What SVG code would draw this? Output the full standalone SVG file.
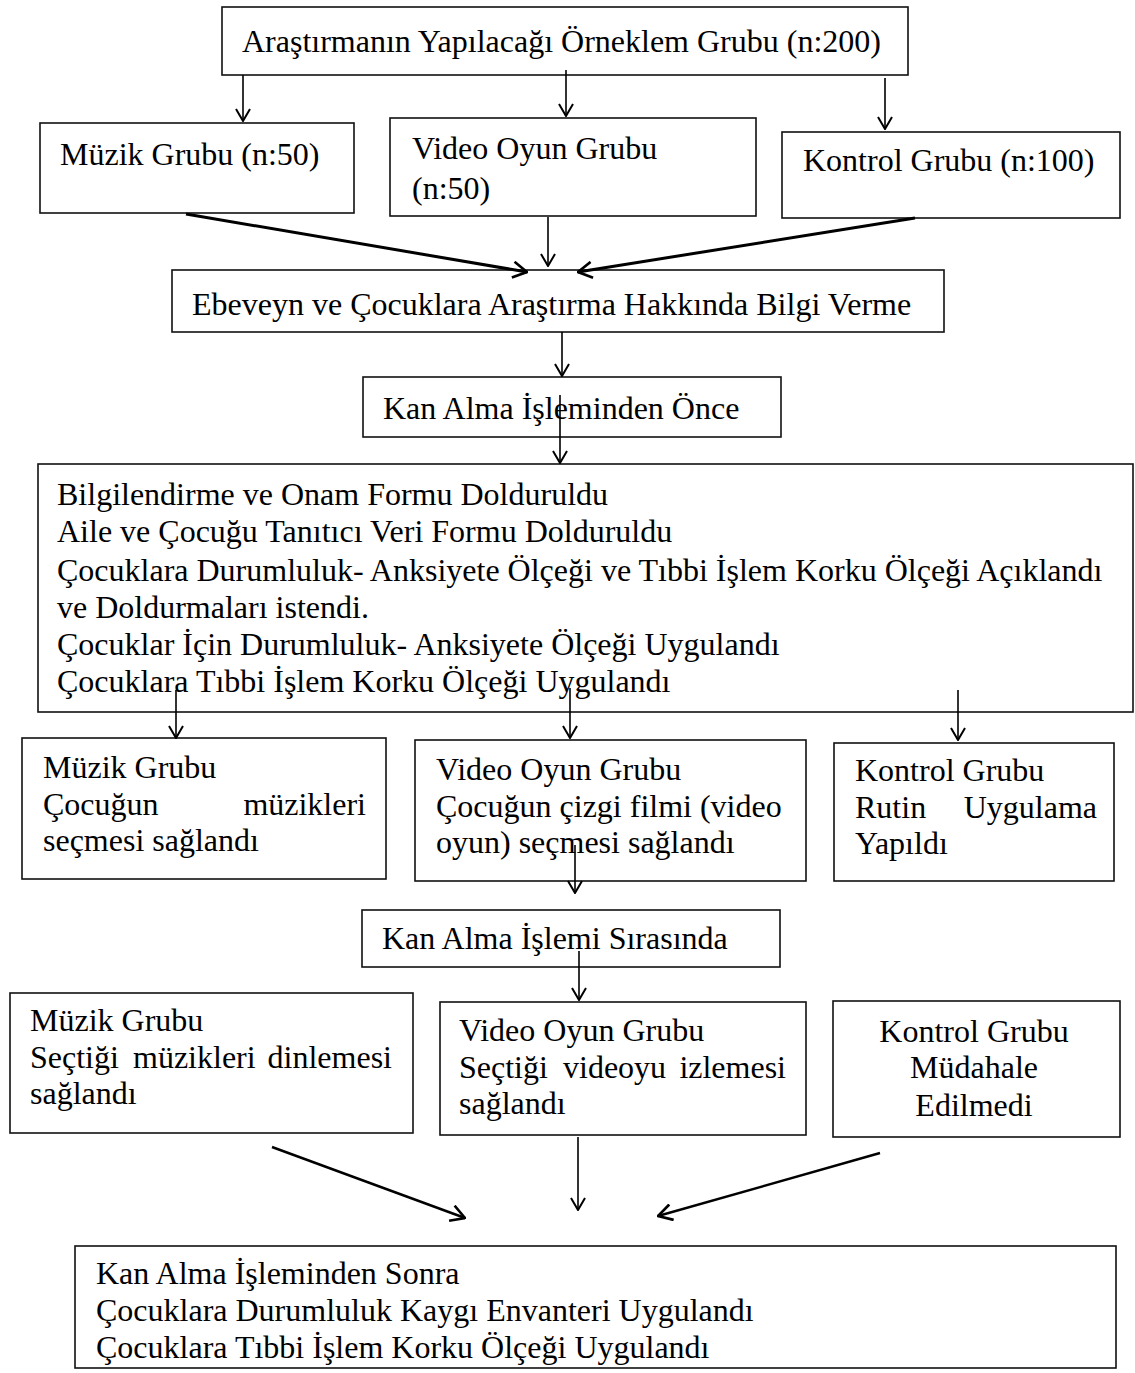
<svg xmlns="http://www.w3.org/2000/svg" width="1135" height="1373" viewBox="0 0 1135 1373">
<defs>
<marker id="v" viewBox="0 0 14 16" markerWidth="14" markerHeight="16" refX="13" refY="8" orient="auto" markerUnits="userSpaceOnUse">
<path d="M1,1 L13,8 L1,15" fill="none" stroke="#000" stroke-width="2"/>
</marker>
<marker id="vb" viewBox="0 0 16 18" markerWidth="16" markerHeight="18" refX="15" refY="9" orient="auto" markerUnits="userSpaceOnUse">
<path d="M1,1 L15,9 L1,17" fill="none" stroke="#000" stroke-width="2.6"/>
</marker>
</defs>
<style>
rect{fill:#fff;stroke:#111;stroke-width:1.6}
text{font-family:"Liberation Serif","Times New Roman",serif;font-size:32px;fill:#000}
.c line{stroke:#000;stroke-width:1.6;marker-end:url(#v)}
.c line.t{stroke-width:3;marker-end:url(#vb)}
.c line.m{stroke-width:2.4;marker-end:url(#vb)}
</style>
<rect x="0" y="0" width="1135" height="1373" style="fill:#fff;stroke:none"/>

<g id="n-orneklem">
<rect x="222" y="7" width="686" height="68"/>
<text x="242" y="52">Araştırmanın Yapılacağı Örneklem Grubu (n:200)</text>
</g>
<g id="n-muzik1">
<rect x="40" y="123" width="314" height="90"/>
<text x="60" y="165">Müzik Grubu (n:50)</text>
</g>
<g id="n-video1">
<rect x="390" y="118" width="366" height="98"/>
<text x="412" y="159">Video Oyun Grubu</text>
<text x="412" y="199">(n:50)</text>
</g>
<g id="n-kontrol1">
<rect x="782" y="132" width="338" height="86"/>
<text x="803" y="171">Kontrol Grubu (n:100)</text>
</g>
<g id="n-ebeveyn">
<rect x="172" y="270" width="772" height="62"/>
<text x="192" y="315">Ebeveyn ve Çocuklara Araştırma Hakkında Bilgi Verme</text>
</g>
<g id="n-once">
<rect x="363" y="377" width="418" height="60"/>
<text x="383" y="419">Kan Alma İşleminden Önce</text>
</g>
<g id="n-formlar">
<rect x="38" y="464" width="1095" height="248"/>
<text x="57" y="505">Bilgilendirme ve Onam Formu Dolduruldu</text>
<text x="57" y="542">Aile ve Çocuğu Tanıtıcı Veri Formu Dolduruldu</text>
<text x="57" y="581">Çocuklara Durumluluk- Anksiyete Ölçeği ve Tıbbi İşlem Korku Ölçeği Açıklandı</text>
<text x="57" y="618">ve Doldurmaları istendi.</text>
<text x="57" y="655">Çocuklar İçin Durumluluk- Anksiyete Ölçeği Uygulandı</text>
<text x="57" y="692">Çocuklara Tıbbi İşlem Korku Ölçeği Uygulandı</text>
</g>
<g id="n-muzik2">
<rect x="22" y="738" width="364" height="141"/>
<text x="43" y="778">Müzik Grubu</text>
<text x="43" y="815">Çocuğun</text>
<text x="366" y="815" text-anchor="end">müzikleri</text>
<text x="43" y="851">seçmesi sağlandı</text>
</g>
<g id="n-video2">
<rect x="415" y="740" width="391" height="141"/>
<text x="436" y="780">Video Oyun Grubu</text>
<text x="436" y="817">Çocuğun çizgi filmi (video</text>
<text x="436" y="853">oyun) seçmesi sağlandı</text>
</g>
<g id="n-kontrol2">
<rect x="834" y="743" width="280" height="138"/>
<text x="855" y="781">Kontrol Grubu</text>
<text x="855" y="818">Rutin</text>
<text x="1097" y="818" text-anchor="end">Uygulama</text>
<text x="855" y="854">Yapıldı</text>
</g>
<g id="n-sirasinda">
<rect x="362" y="910" width="418" height="57"/>
<text x="382" y="949">Kan Alma İşlemi Sırasında</text>
</g>
<g id="n-muzik3">
<rect x="10" y="993" width="403" height="140"/>
<text x="30" y="1031">Müzik Grubu</text>
<text x="30" y="1068">Seçtiği</text>
<text x="133" y="1068">müzikleri</text>
<text x="392" y="1068" text-anchor="end">dinlemesi</text>
<text x="30" y="1104">sağlandı</text>
</g>
<g id="n-video3">
<rect x="440" y="1002" width="366" height="133"/>
<text x="459" y="1041">Video Oyun Grubu</text>
<text x="459" y="1078">Seçtiği</text>
<text x="563" y="1078">videoyu</text>
<text x="786" y="1078" text-anchor="end">izlemesi</text>
<text x="459" y="1114">sağlandı</text>
</g>
<g id="n-kontrol3">
<rect x="833" y="1001" width="287" height="136"/>
<text x="974" y="1042" text-anchor="middle">Kontrol Grubu</text>
<text x="974" y="1078" text-anchor="middle">Müdahale</text>
<text x="974" y="1116" text-anchor="middle">Edilmedi</text>
</g>
<g id="n-sonra">
<rect x="75" y="1246" width="1041" height="122"/>
<text x="96" y="1284">Kan Alma İşleminden Sonra</text>
<text x="96" y="1321">Çocuklara Durumluluk Kaygı Envanteri Uygulandı</text>
<text x="96" y="1358">Çocuklara Tıbbi İşlem Korku Ölçeği Uygulandı</text>
</g>

<g id="connectors" class="c">
<line x1="243" y1="75" x2="243" y2="121"/>
<line x1="566" y1="70" x2="566" y2="116"/>
<line x1="885" y1="78" x2="885" y2="129"/>
<line class="t" x1="186" y1="214" x2="527" y2="272"/>
<line x1="548" y1="217" x2="548" y2="266"/>
<line class="t" x1="915" y1="218" x2="578" y2="272"/>
<line x1="562" y1="332" x2="562" y2="376"/>
<line x1="560" y1="395" x2="560" y2="463"/>
<line x1="176" y1="690" x2="176" y2="738"/>
<line x1="570" y1="688" x2="570" y2="738"/>
<line x1="958" y1="690" x2="958" y2="740"/>
<line x1="575" y1="845" x2="575" y2="893"/>
<line x1="579" y1="951" x2="579" y2="1000"/>
<line class="m" x1="272" y1="1147" x2="465" y2="1218"/>
<line x1="578" y1="1137" x2="578" y2="1210"/>
<line class="m" x1="880" y1="1153" x2="658" y2="1216"/>
</g>
</svg>
